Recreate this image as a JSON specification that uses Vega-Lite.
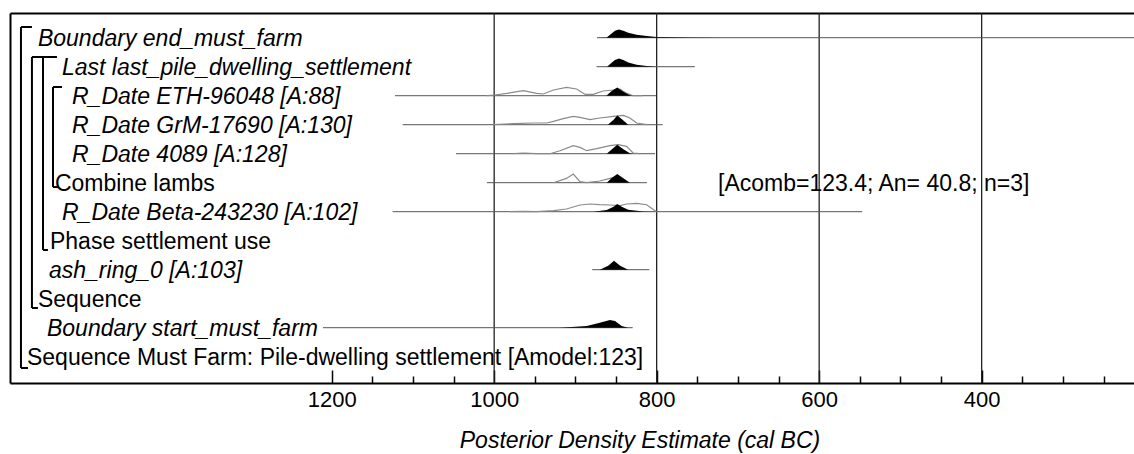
{
  "$schema": "https://vega.github.io/schema/vega-lite/v6.json",
  "width": 1124,
  "height": 370,
  "autosize": {"type": "none"},
  "padding": {"left": 10, "top": 13, "right": 0, "bottom": 71},
  "background": "white",
  "view": {"stroke": null},
  "config": {
    "font": "Liberation Sans",
    "axisY": {"domain": true, "domainColor": "black", "domainWidth": 2, "ticks": false, "labels": false, "grid": false},
    "axisX": {"grid": false}
  },
  "datasets": {
    "grid": [{"g": 1000}, {"g": 800}, {"g": 600}, {"g": 400}],
    "rng": [
      {"r": 0, "a": 873.5, "b": 212.5},
      {"r": 1, "a": 874, "b": 753},
      {"r": 2, "a": 1122, "b": 800.6},
      {"r": 3, "a": 1112.7, "b": 792.6},
      {"r": 4, "a": 1047, "b": 802},
      {"r": 5, "a": 1009, "b": 812},
      {"r": 6, "a": 1125, "b": 547},
      {"r": 8, "a": 879.3, "b": 809},
      {"r": 10, "a": 1210.7, "b": 829.5}
    ],
    "lik": [
      {"r": 2, "yr": 1009, "d": 0}, {"r": 2, "yr": 999, "d": 0.7}, {"r": 2, "yr": 984.6, "d": 2.3}, {"r": 2, "yr": 964, "d": 5}, {"r": 2, "yr": 947.7, "d": 2.3}, {"r": 2, "yr": 939.6, "d": 1.7}, {"r": 2, "yr": 927, "d": 5.7}, {"r": 2, "yr": 911, "d": 8.3}, {"r": 2, "yr": 898.5, "d": 6.7}, {"r": 2, "yr": 888, "d": 1.3}, {"r": 2, "yr": 878, "d": 1.3}, {"r": 2, "yr": 866, "d": 4.7}, {"r": 2, "yr": 853, "d": 5.7}, {"r": 2, "yr": 845, "d": 6.7}, {"r": 2, "yr": 837, "d": 2.3}, {"r": 2, "yr": 829, "d": 0}, {"r": 2, "yr": 817, "d": 0},
      {"r": 3, "yr": 1001, "d": 0}, {"r": 3, "yr": 976.5, "d": 1}, {"r": 3, "yr": 952, "d": 1.7}, {"r": 3, "yr": 935.4, "d": 1.7}, {"r": 3, "yr": 927, "d": 3.3}, {"r": 3, "yr": 915, "d": 6}, {"r": 3, "yr": 902.6, "d": 8.3}, {"r": 3, "yr": 894.4, "d": 7.3}, {"r": 3, "yr": 882, "d": 5}, {"r": 3, "yr": 870, "d": 6.7}, {"r": 3, "yr": 853, "d": 8.3}, {"r": 3, "yr": 841, "d": 9.3}, {"r": 3, "yr": 833, "d": 6.7}, {"r": 3, "yr": 824.6, "d": 1.7}, {"r": 3, "yr": 812.3, "d": 0},
      {"r": 4, "yr": 976.5, "d": 0}, {"r": 4, "yr": 964.2, "d": 0.7}, {"r": 4, "yr": 947.7, "d": 0}, {"r": 4, "yr": 931.3, "d": 0}, {"r": 4, "yr": 919, "d": 3}, {"r": 4, "yr": 902.6, "d": 8}, {"r": 4, "yr": 894.4, "d": 6.3}, {"r": 4, "yr": 886.1, "d": 3}, {"r": 4, "yr": 873.8, "d": 5}, {"r": 4, "yr": 857.5, "d": 8}, {"r": 4, "yr": 847.3, "d": 9}, {"r": 4, "yr": 837, "d": 7.3}, {"r": 4, "yr": 829, "d": 0.7}, {"r": 4, "yr": 820.5, "d": 0},
      {"r": 5, "yr": 927, "d": 0}, {"r": 5, "yr": 911, "d": 4.3}, {"r": 5, "yr": 902.6, "d": 8.7}, {"r": 5, "yr": 894.4, "d": 1}, {"r": 5, "yr": 886.1, "d": 0}, {"r": 5, "yr": 870, "d": 1.7}, {"r": 5, "yr": 857.5, "d": 4.3}, {"r": 5, "yr": 853, "d": 5}, {"r": 5, "yr": 837, "d": 0},
      {"r": 6, "yr": 980.5, "d": 0}, {"r": 6, "yr": 964.2, "d": 0.3}, {"r": 6, "yr": 947.7, "d": 0}, {"r": 6, "yr": 927, "d": 1}, {"r": 6, "yr": 911, "d": 2.7}, {"r": 6, "yr": 894.4, "d": 6.7}, {"r": 6, "yr": 882, "d": 7.7}, {"r": 6, "yr": 870, "d": 7}, {"r": 6, "yr": 857.5, "d": 6.7}, {"r": 6, "yr": 845, "d": 6}, {"r": 6, "yr": 837, "d": 7.7}, {"r": 6, "yr": 824.6, "d": 8.3}, {"r": 6, "yr": 812.3, "d": 7}, {"r": 6, "yr": 802, "d": 1}, {"r": 6, "yr": 800, "d": 0}
    ],
    "post": [
      {"r": 0, "yr": 873, "d": 0}, {"r": 0, "yr": 861.5, "d": 0.3}, {"r": 0, "yr": 855.4, "d": 4.3}, {"r": 0, "yr": 851.3, "d": 7}, {"r": 0, "yr": 846.4, "d": 8.3}, {"r": 0, "yr": 841, "d": 7}, {"r": 0, "yr": 835, "d": 5}, {"r": 0, "yr": 824.6, "d": 3}, {"r": 0, "yr": 812.3, "d": 1.7}, {"r": 0, "yr": 800, "d": 0.7}, {"r": 0, "yr": 759, "d": 0.3}, {"r": 0, "yr": 718, "d": 0},
      {"r": 1, "yr": 861, "d": 0}, {"r": 1, "yr": 855.4, "d": 4}, {"r": 1, "yr": 851.3, "d": 6.7}, {"r": 1, "yr": 846.4, "d": 8.3}, {"r": 1, "yr": 841, "d": 6.7}, {"r": 1, "yr": 835, "d": 4.3}, {"r": 1, "yr": 824.6, "d": 2}, {"r": 1, "yr": 812.3, "d": 0.7}, {"r": 1, "yr": 800, "d": 0},
      {"r": 2, "yr": 862, "d": 0}, {"r": 2, "yr": 855, "d": 5}, {"r": 2, "yr": 848.5, "d": 8.3}, {"r": 2, "yr": 841, "d": 4}, {"r": 2, "yr": 833, "d": 0.5}, {"r": 2, "yr": 829, "d": 0},
      {"r": 3, "yr": 860, "d": 0}, {"r": 3, "yr": 853, "d": 5}, {"r": 3, "yr": 848.5, "d": 9.3}, {"r": 3, "yr": 842, "d": 5}, {"r": 3, "yr": 835, "d": 0},
      {"r": 4, "yr": 861.5, "d": 0}, {"r": 4, "yr": 855, "d": 4.5}, {"r": 4, "yr": 848.5, "d": 9}, {"r": 4, "yr": 841, "d": 4.5}, {"r": 4, "yr": 833, "d": 0.5}, {"r": 4, "yr": 829, "d": 0},
      {"r": 5, "yr": 861.5, "d": 0}, {"r": 5, "yr": 855, "d": 5}, {"r": 5, "yr": 848.5, "d": 8.7}, {"r": 5, "yr": 841, "d": 4.5}, {"r": 5, "yr": 833, "d": 0},
      {"r": 6, "yr": 878, "d": 0}, {"r": 6, "yr": 861.5, "d": 1.7}, {"r": 6, "yr": 853, "d": 5}, {"r": 6, "yr": 848.5, "d": 7.7}, {"r": 6, "yr": 843, "d": 5}, {"r": 6, "yr": 835, "d": 2}, {"r": 6, "yr": 816.5, "d": 0.3}, {"r": 6, "yr": 800, "d": 0},
      {"r": 8, "yr": 870, "d": 0}, {"r": 8, "yr": 859.6, "d": 4}, {"r": 8, "yr": 852.5, "d": 9}, {"r": 8, "yr": 845, "d": 4}, {"r": 8, "yr": 835, "d": 0},
      {"r": 10, "yr": 919, "d": 0}, {"r": 10, "yr": 886, "d": 1.7}, {"r": 10, "yr": 870, "d": 5}, {"r": 10, "yr": 857.5, "d": 7.7}, {"r": 10, "yr": 851.3, "d": 6.7}, {"r": 10, "yr": 843, "d": 1.7}, {"r": 10, "yr": 835, "d": 0}
    ],
    "labIt": [
      {"t": "Boundary end_must_farm", "yr": 1561.5, "r": 0},
      {"t": "Last last_pile_dwelling_settlement", "yr": 1531.9, "r": 1},
      {"t": "R_Date ETH-96048 [A:88]", "yr": 1519.6, "r": 2},
      {"t": "R_Date GrM-17690 [A:130]", "yr": 1519.6, "r": 3},
      {"t": "R_Date 4089 [A:128]", "yr": 1519.6, "r": 4},
      {"t": "R_Date Beta-243230 [A:102]", "yr": 1531.9, "r": 6},
      {"t": "ash_ring_0 [A:103]", "yr": 1547.9, "r": 8},
      {"t": "Boundary start_must_farm", "yr": 1550.4, "r": 10}
    ],
    "labNo": [
      {"t": "Combine lambs", "yr": 1540.6, "r": 5},
      {"t": "[Acomb=123.4; An= 40.8; n=3]", "yr": 724.5, "r": 5},
      {"t": "Phase settlement use", "yr": 1546.7, "r": 7},
      {"t": "Sequence", "yr": 1561.5, "r": 9},
      {"t": "Sequence Must Farm: Pile-dwelling settlement [Amodel:123]", "yr": 1575, "r": 11}
    ],
    "brk": [
      {"x1": 1582.4, "y1": -0.369, "x2": 1582.4, "y2": 11.39},
      {"x1": 1582.4, "y1": -0.369, "x2": 1568.9, "y2": -0.369},
      {"x1": 1582.4, "y1": 11.39, "x2": 1573.8, "y2": 11.39},
      {"x1": 1568.9, "y1": 0.666, "x2": 1568.9, "y2": 9.32},
      {"x1": 1568.9, "y1": 0.666, "x2": 1538.1, "y2": 0.666},
      {"x1": 1568.9, "y1": 9.32, "x2": 1561.5, "y2": 9.32},
      {"x1": 1555.3, "y1": 0.666, "x2": 1555.3, "y2": 7.32},
      {"x1": 1555.3, "y1": 7.32, "x2": 1549.2, "y2": 7.32},
      {"x1": 1543, "y1": 1.7, "x2": 1543, "y2": 5.15},
      {"x1": 1543, "y1": 1.7, "x2": 1531.9, "y2": 1.7},
      {"x1": 1543, "y1": 5.15, "x2": 1536.9, "y2": 5.15}
    ]
  },
  "resolve": {"axis": {"x": "independent"}},
  "layer": [
    {
      "data": {"name": "grid"},
      "mark": {"type": "rule", "color": "#222222", "strokeWidth": 1.3},
      "encoding": {
        "x": {
          "field": "g", "type": "quantitative",
          "scale": {"domain": [1595.9, 212.5], "nice": false, "zero": false},
          "axis": {
            "orient": "bottom",
            "values": [1200, 1150, 1100, 1050, 1000, 950, 900, 850, 800, 750, 700, 650, 600, 550, 500, 450, 400, 350, 300, 250],
            "format": "d",
            "labelExpr": "datum.value % 200 === 0 ? datum.label : ''",
            "domain": true, "domainColor": "black", "domainWidth": 2,
            "ticks": true, "tickColor": "black", "tickWidth": 1.5,
            "tickSize": {"condition": {"test": "datum.value % 200 === 0", "value": -13}, "value": -7},
            "labelFont": "Liberation Sans", "labelFontSize": 22, "labelColor": "black",
            "labelBaseline": "alphabetic", "labelPadding": 36, "labelFlush": false, "labelOverlap": false,
            "title": "Posterior Density Estimate (cal BC)",
            "titleFont": "Liberation Sans", "titleFontSize": 23, "titleFontStyle": "italic", "titleFontWeight": "normal",
            "titleColor": "black", "titleX": 629.5, "titleY": 64, "titleAlign": "center", "titleBaseline": "alphabetic"
          }
        }
      }
    },
    {
      "data": {"name": "rng"},
      "mark": {"type": "rule", "color": "#555555", "strokeWidth": 1},
      "encoding": {
        "x": {"field": "a", "type": "quantitative", "scale": {"domain": [1595.9, 212.5], "nice": false, "zero": false},
          "axis": {"orient": "top", "domain": true, "domainColor": "black", "domainWidth": 2, "ticks": false, "labels": false, "title": null, "grid": false}},
        "x2": {"field": "b"},
        "y": {"field": "r", "type": "quantitative", "title": null, "scale": {"domain": [11.907, -0.852], "nice": false, "zero": false}}
      }
    },
    {
      "data": {"name": "lik"},
      "transform": [{"calculate": "datum.r - datum.d / 29", "as": "top"}],
      "mark": {"type": "line", "color": "#8a8a8a", "strokeWidth": 1.2},
      "encoding": {
        "x": {"field": "yr", "type": "quantitative", "axis": null, "scale": {"domain": [1595.9, 212.5], "nice": false, "zero": false}},
        "y": {"field": "top", "type": "quantitative", "title": null, "scale": {"domain": [11.907, -0.852], "nice": false, "zero": false}},
        "detail": {"field": "r", "type": "nominal"}
      }
    },
    {
      "data": {"name": "post"},
      "transform": [{"calculate": "datum.r - datum.d / 29", "as": "top"}],
      "mark": {"type": "area", "color": "black"},
      "encoding": {
        "x": {"field": "yr", "type": "quantitative", "axis": null, "scale": {"domain": [1595.9, 212.5], "nice": false, "zero": false}},
        "y": {"field": "top", "type": "quantitative", "title": null, "scale": {"domain": [11.907, -0.852], "nice": false, "zero": false}},
        "y2": {"field": "r"},
        "detail": {"field": "r", "type": "nominal"}
      }
    },
    {
      "data": {"name": "brk"},
      "mark": {"type": "rule", "color": "black", "strokeWidth": 2},
      "encoding": {
        "x": {"field": "x1", "type": "quantitative", "axis": null, "scale": {"domain": [1595.9, 212.5], "nice": false, "zero": false}},
        "x2": {"field": "x2"},
        "y": {"field": "y1", "type": "quantitative", "title": null, "scale": {"domain": [11.907, -0.852], "nice": false, "zero": false}},
        "y2": {"field": "y2"}
      }
    },
    {
      "data": {"name": "labIt"},
      "mark": {"type": "text", "align": "left", "baseline": "middle", "font": "Liberation Sans", "fontSize": 23, "fontStyle": "italic", "color": "black", "dy": 1},
      "encoding": {
        "x": {"field": "yr", "type": "quantitative", "axis": null, "scale": {"domain": [1595.9, 212.5], "nice": false, "zero": false}},
        "y": {"field": "r", "type": "quantitative", "title": null, "scale": {"domain": [11.907, -0.852], "nice": false, "zero": false}},
        "text": {"field": "t"}
      }
    },
    {
      "data": {"name": "labNo"},
      "mark": {"type": "text", "align": "left", "baseline": "middle", "font": "Liberation Sans", "fontSize": 23, "color": "black", "dy": 1},
      "encoding": {
        "x": {"field": "yr", "type": "quantitative", "axis": null, "scale": {"domain": [1595.9, 212.5], "nice": false, "zero": false}},
        "y": {"field": "r", "type": "quantitative", "title": null, "scale": {"domain": [11.907, -0.852], "nice": false, "zero": false}},
        "text": {"field": "t"}
      }
    }
  ]
}
